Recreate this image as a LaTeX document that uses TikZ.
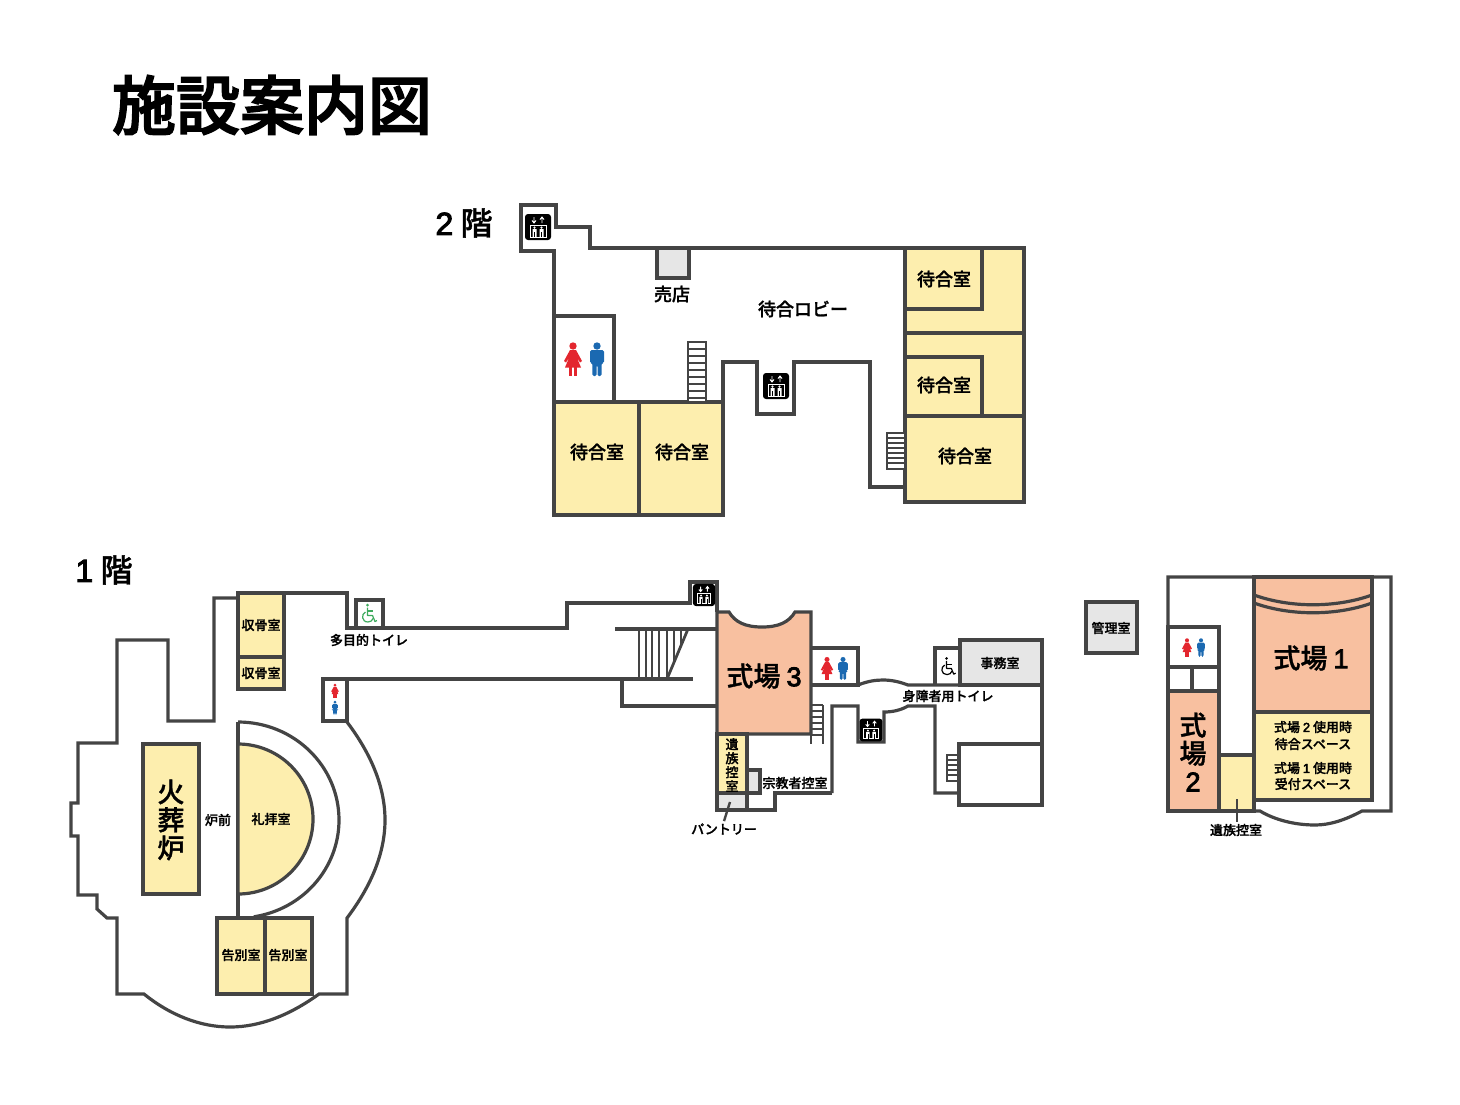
\documentclass[tikz,border=0pt]{standalone}
\usepackage{fontspec}
\setmainfont[FakeBold=1.2]{Noto Sans CJK JP Medium}
\newfontfamily\digitfont[FakeBold=3]{Liberation Sans}
\newfontfamily\titlefont[FakeBold=2.5]{Noto Sans CJK JP Medium}
\usepackage{xcolor}
\definecolor{wallgray}{HTML}{444444}
\definecolor{roomyellow}{HTML}{FDEEAE}
\definecolor{roompink}{HTML}{F8C0A0}
\definecolor{roomgray}{HTML}{E6E6E6}
\definecolor{ladyred}{HTML}{E3262E}
\definecolor{manblue}{HTML}{1B69B1}
\definecolor{chairgreen}{HTML}{3DAA5D}
\newcommand{\labelsize}[1]{\fontsize{#1}{#1}\selectfont}
\tikzset{
  wall/.style={draw=wallgray, line width=3.2pt, line join=miter},
  thinwall/.style={draw=wallgray, line width=2.8pt},
  yellowroom/.style={wall, fill=roomyellow},
  pinkroom/.style={wall, fill=roompink},
  grayroom/.style={wall, fill=roomgray},
  smalltext/.style={font=\labelsize{13}, inner sep=0pt},
  midtext/.style={font=\labelsize{18}, inner sep=0pt},
  bigtext/.style={font=\labelsize{27}, inner sep=0pt},
  floortext/.style={font=\labelsize{32}, inner sep=0pt},
  ladyicon/.pic={
    \fill[ladyred] (0,-14) circle (3.7);
    \fill[ladyred] (-3,-10) -- (3,-10) -- (9,1) -- (7,2.5) -- (3.6,-3) -- (8,7.5) -- (-8,7.5) -- (-3.6,-3) -- (-7,2.5) -- (-9,1) -- cycle;
    \fill[ladyred] (-3.6,7) rectangle (-0.7,15.5);
    \fill[ladyred] (0.7,7) rectangle (3.6,15.5);
  },
  manicon/.pic={
    \fill[manblue] (0,-14) circle (3.7);
    \fill[manblue, rounded corners=1.5] (-7,-10) -- (7,-10) -- (7,3) -- (4.6,3) -- (4.6,16) -- (0.5,16) -- (0.5,5) -- (-0.5,5) -- (-0.5,16) -- (-4.6,16) -- (-4.6,3) -- (-7,3) -- cycle;
  },
  lifticon/.pic={
    \fill[black, rounded corners=3] (-13,-13) rectangle (13,13);
    \draw[white, line width=0.9pt] (-4,-10) -- (-4,-4) (-6,-6.5) -- (-4,-4) -- (-2,-6.5);
    \draw[white, line width=0.9pt] (4,-4) -- (4,-10) (2,-7.5) -- (4,-10) -- (6,-7.5);
    \draw[white, line width=1pt] (-8,-2) rectangle (8,10);
    \fill[white] (-3.5,0.6) circle (1.2) (3.5,0.6) circle (1.2);
    \fill[white] (-5.5,2.2) rectangle (-1.5,10) (1.5,2.2) rectangle (5.5,10);
    \draw[black, line width=0.5pt] (-3.5,5) -- (-3.5,10) (3.5,5) -- (3.5,10);
  },
  chairicon/.pic={
    \fill (-1.5,-9) circle (1.5);
    \draw[line width=1.2pt, line join=round] (-1.5,-6.5) -- (-1.5,1.5) -- (3.5,1.5) -- (6,7.5) -- (8,6.5);
    \draw[line width=1.2pt] (-1.5,-3) -- (4,-3);
    \draw[line width=1.2pt] (-3.5,-2) .. controls (-8,0) and (-7.5,8) .. (-1,8) .. controls (1.5,8) and (3.5,6.5) .. (4,4.5);
  }
}

\begin{document}
\begin{tikzpicture}[x=1pt, y=-1pt]
  \useasboundingbox (0,0) rectangle (1460,1104);

  \node[font=\titlefont\labelsize{64}, inner sep=0pt] (titlelabel) at (272,105) {施設案内図};

  % 2 floor
  \node[floortext] (floorb) at (464,223) {{\digitfont 2} 階};
  \draw[wall] (521,205) -- (556,205) -- (556,227) -- (590,227) -- (590,248) -- (1024,248) -- (1024,502) -- (905,502) -- (905,487) -- (870,487) -- (870,362) -- (794,362) -- (794,414) -- (757,414) -- (757,362) -- (723,362) -- (723,515) -- (554,515) -- (554,251) -- (521,251) -- cycle;
  \draw[grayroom] (657,248) rectangle (689,278);
  \draw[wall] (554,316) rectangle (614,402);
  \draw[yellowroom] (554,402) rectangle (639,515);
  \draw[yellowroom] (639,402) rectangle (723,515);
  \draw[yellowroom] (905,248) rectangle (1024,333);
  \draw[yellowroom] (905,248) rectangle (982,309);
  \draw[yellowroom] (905,333) rectangle (1024,416);
  \draw[yellowroom] (905,357) rectangle (982,416);
  \draw[yellowroom] (905,416) rectangle (1024,502);
  \draw[thinwall, fill=white] (688,342) rectangle (706,402);
  \foreach \y in {349,356,...,398} \draw[thinwall] (688,\y) -- (706,\y);
  \draw[thinwall, fill=white] (887,433) rectangle (905,469);
  \foreach \y in {438,443,...,466} \draw[thinwall] (887,\y) -- (905,\y);
  \pic at (538,227) {lifticon};
  \pic at (776,386) {lifticon};
  \pic at (573,360) {ladyicon};
  \pic at (597,360) {manicon};
  \node[midtext] (shoplabel) at (672,294) {売店};
  \node[midtext] (lobbylabel) at (803,309) {待合ロビー};
  \node[midtext] (waita) at (944,279) {待合室};
  \node[midtext] (waitb) at (944,385) {待合室};
  \node[midtext] (waitc) at (965,456) {待合室};
  \node[midtext] (waitd) at (597,452) {待合室};
  \node[midtext] (waite) at (682,452) {待合室};

  % 1 floor, left
  \node[floortext] (floora) at (104,570) {{\digitfont 1} 階};
  \draw[wall] (238,598) -- (214,598) -- (214,721) -- (168,721) -- (168,640) -- (117,640) -- (117,743) -- (78,743) -- (78,803) -- (71,803) -- (71,836) -- (78,836) -- (78,895) -- (97,895) -- (97,909) -- (107,918) -- (117,918) -- (117,994) -- (144,994) .. controls (170,1015) and (200,1027) .. (230,1027) .. controls (260,1027) and (290,1015) .. (319,994) -- (347,994) -- (347,918) .. controls (372,885) and (385,852) .. (385,820) .. controls (385,788) and (372,755) .. (347,722);
  \draw[wall] (284,593) -- (347,593) -- (347,628) -- (567,628) -- (567,603) -- (690,603) -- (690,582) -- (717,582) -- (717,612);
  \draw[wall] (347,679) -- (693,679);
  \draw[wall] (622,679) -- (622,706) -- (717,706);
  \draw[wall] (615,629) -- (717,629);
  \draw[wall] (323,679) rectangle (347,721);
  \draw[wall] (356,628) -- (356,600) -- (383,600) -- (383,628);
  \foreach \x in {639,646,652,659,667} \draw[thinwall] (\x,629) -- (\x,679);
  \draw[thinwall] (674,629) -- (674,662);
  \draw[thinwall] (681,629) -- (681,646);
  \draw[thinwall] (688,629) -- (667,679);
  \draw[yellowroom] (238,593) rectangle (284,657);
  \draw[yellowroom] (238,657) rectangle (284,689);
  \draw[yellowroom] (143,744) rectangle (199,894);
  \draw[wall] (238,722) -- (238,918);
  \draw[wall] (238,722) arc[start angle=-90, end angle=81, x radius=101, y radius=98];
  \draw[yellowroom] (238,744) arc[start angle=-90, end angle=90, radius=75] -- cycle;
  \draw[yellowroom] (217,918) rectangle (265,994);
  \draw[yellowroom] (265,918) rectangle (312,994);
  \pic[scale=0.42] at (335,691) {ladyicon};
  \pic[scale=0.42] at (335,708) {manicon};
  \pic[chairgreen, draw=chairgreen, fill=chairgreen] at (369,614) {chairicon};
  \node[smalltext] (bonea) at (261,625) {収骨室};
  \node[smalltext] (boneb) at (261,673) {収骨室};
  \node[smalltext] (multilabel) at (369,640) {多目的トイレ};
  \node[bigtext, align=center] (furnacelabel) at (171,820) {火\\[1pt]葬\\[1pt]炉};
  \node[smalltext] (frontlabel) at (218,820) {炉前};
  \node[smalltext] (praylabel) at (271,819) {礼拝室};
  \node[smalltext] (farea) at (241,955) {告別室};
  \node[smalltext] (fareb) at (288,955) {告別室};

  % 1 floor, middle
  \draw[pinkroom] (717,612) -- (729,612) .. controls (735,622) and (745,627) .. (762,627) .. controls (779,627) and (789,622) .. (795,612) -- (811,612) -- (811,734) -- (717,734) -- cycle;
  \draw[wall] (811,648) -- (858,648) -- (858,685) -- (811,685);
  \draw[wall] (858,685) .. controls (868,681) and (876,680) .. (883,680) .. controls (892,680) and (900,682) .. (908,685) -- (1042,685);
  \draw[wall] (832,793) -- (832,706) -- (858,706) -- (858,742) -- (884,742) -- (884,712) .. controls (893,712) and (901,710) .. (908,706) -- (935,706) -- (935,793) -- (959,793);
  \draw[wall] (832,793) -- (775,793) -- (775,810) -- (717,810) -- (717,734);
  \draw[grayroom] (747,770) rectangle (760,793);
  \draw[yellowroom] (717,734) rectangle (747,793);
  \draw[grayroom] (717,793) rectangle (747,810);
  \draw[wall] (747,810) -- (775,810);
  \draw[thinwall] (811,705) -- (811,744) (823,705) -- (823,744);
  \foreach \y in {705,711,...,736} \draw[thinwall] (811,\y) -- (823,\y);
  \draw[grayroom] (960,640) rectangle (1042,685);
  \draw[wall] (960,648) -- (935,648) -- (935,685);
  \draw[wall] (1042,685) -- (1042,805) -- (959,805) -- (959,744) -- (1042,744);
  \draw[thinwall] (947,755) rectangle (959,781);
  \foreach \y in {760,765,...,778} \draw[thinwall] (947,\y) -- (959,\y);
  \pic[scale=0.85] at (704,595) {lifticon};
  \pic[scale=0.88] at (871,730) {lifticon};
  \pic[scale=0.68] at (827,669) {ladyicon};
  \pic[scale=0.68] at (843,669) {manicon};
  \pic[black, scale=0.95] at (948,667) {chairicon};
  \node[bigtext] (halla) at (764,676) {式場 {\digitfont 3}};
  \node[smalltext, align=center] (familya) at (732,765) {遺\\[1pt]族\\[1pt]控\\[1pt]室};
  \node[smalltext] (priestlabel) at (795,783) {宗教者控室};
  \node[smalltext] (pantrylabel) at (724,829) {パントリー};
  \coordinate (pantrypt) at (730,802);
  \draw[wall, line width=2.4pt] (pantrylabel.north) ++(0,-2) -- (pantrypt);
  \node[smalltext] (officelabel) at (1000,663) {事務室};
  \node[smalltext, fill=white, inner ysep=1pt] (disabledlabel) at (948,696) {身障者用トイレ};

  % 1 floor, right
  \draw[grayroom] (1086,602) rectangle (1137,653);
  \node[smalltext] (managerlabel) at (1111,628) {管理室};
  \draw[wall] (1168,577) -- (1391,577) -- (1391,811) -- (1362,811) .. controls (1345,820) and (1330,825) .. (1315,825) .. controls (1295,825) and (1275,820) .. (1260,811) -- (1168,811) -- cycle;
  \draw[pinkroom] (1254,577) rectangle (1372,712);
  \draw[wall] (1254,595) .. controls (1290,608) and (1336,608) .. (1372,595);
  \draw[wall] (1254,603) .. controls (1290,616) and (1336,616) .. (1372,603);
  \draw[yellowroom] (1254,712) rectangle (1372,800);
  \draw[wall] (1254,800) -- (1254,811);
  \draw[wall] (1168,627) rectangle (1219,667);
  \draw[wall] (1168,667) rectangle (1219,691);
  \draw[wall] (1192,667) -- (1192,691);
  \draw[pinkroom] (1168,691) rectangle (1219,811);
  \draw[yellowroom] (1219,755) rectangle (1254,811);
  \pic[scale=0.55] at (1187,648) {ladyicon};
  \pic[scale=0.55] at (1201,648) {manicon};
  \node[bigtext] (hallb) at (1311,658) {式場 {\digitfont 1}};
  \node[bigtext, align=center] (hallc) at (1193,752) {式\\[1pt]場\\[1pt]{\digitfont 2}};
  \node[smalltext] (usea) at (1313,727) {式場 {\digitfont 2} 使用時};
  \node[smalltext] (useb) at (1313,744) {待合スペース};
  \node[smalltext] (usec) at (1313,768) {式場 {\digitfont 1} 使用時};
  \node[smalltext] (used) at (1313,784) {受付スペース};
  \node[smalltext] (familyb) at (1236,830) {遺族控室};
  \coordinate (familypt) at (1237,799);
  \draw[wall, line width=2.4pt] (familyb.north) ++(1,-2) -- (familypt);
\end{tikzpicture}
\end{document}
